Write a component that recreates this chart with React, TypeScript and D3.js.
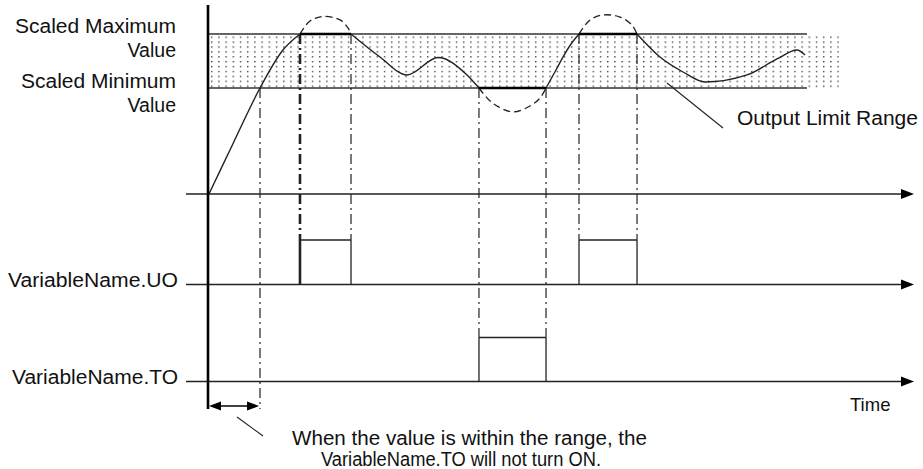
import React from "react";
import * as d3 from "d3";

// ---- data (time units / value units) ----
const EVENTS = { enterMin: 7.43, hitMax1: 13.14, leaveMax1: 20.43, hitMin: 38.71, leaveMin: 48.29, hitMax2: 53.0, leaveMax2: 61.29 };
const MAX_VAL = 100;
const MIN_VAL = 66.25;
const BAND_END = 85.57;
const DOTS_END = 90;

// clamped output (solid) segments
const rise1T = [0.14, 3.14, 7.43, 10.71, 13.14];
const rise1V = [0, 27.5, 66.25, 90, 100];
const wave1T = [20.43, 24.57, 28.43, 32.86, 37, 38.71];
const wave1V = [100, 85.6, 74.4, 85.3, 74.4, 66.25];
const rise2T = [48.29, 49.71, 50.71, 51.86, 53];
const rise2V = [66.25, 77.5, 85.6, 93.75, 100];
const wave2T = [61.29, 64.57, 67.86, 71.0, 77, 81.29, 84.14, 85.29];
const wave2V = [100, 85.6, 76.25, 70, 74.4, 84.4, 90, 86.9];

// unclamped (dashed) segments
const over1T = [13.14, 14.57, 16.43, 18.86, 20.0, 20.43];
const over1V = [100, 108.1, 111.0, 108.8, 103.8, 100];
const underT = [38.71, 40, 41.29, 43.57, 46, 47.43, 48.29];
const underV = [66.25, 59.4, 55, 51.25, 55, 60, 66.25];
const over2T = [53, 54.57, 56.43, 58.86, 60.57, 61.29];
const over2V = [100, 108.75, 111.9, 110.6, 105.6, 100];

// pulses
const uoPulses = [[EVENTS.hitMax1, EVENTS.leaveMax1], [EVENTS.hitMax2, EVENTS.leaveMax2]];
const toPulses = [[EVENTS.hitMin, EVENTS.leaveMin]];

// labels
const leftLabels = [
  { text: "Scaled Maximum", y: 33, w: 161 },
  { text: "Value", y: 57 },
  { text: "Scaled Minimum", y: 88, w: 155 },
  { text: "Value", y: 112 },
  { text: "VariableName.UO", y: 287, w: 170, x: 178 },
  { text: "VariableName.TO", y: 384, w: 166, x: 178 },
];

const W = 923, H = 469;
const X0 = 208;
const axisY = 194;
const uoY = 284.5;
const uoHigh = 240;
const toY = 381.5;
const toHigh = 337.5;
const ink = "#222";

export default function App() {
  const x = d3.scaleLinear().domain([0, 100]).range([X0, 908]);
  const y = d3.scaleLinear().domain([0, 100]).range([axisY, 34]);

  const seg = (ts: number[], vs: number[], curve: any) =>
    d3.line<number>().x((_, i) => x(ts[i])).y((_, i) => y(vs[i])).curve(curve)(ts.map((t) => t)) || "";

  const solid = [
    seg(rise1T, rise1V, d3.curveCatmullRom),
    seg(wave1T, wave1V, d3.curveMonotoneX),
    seg(rise2T, rise2V, d3.curveCatmullRom),
    seg(wave2T, wave2V, d3.curveMonotoneX),
  ];
  const dashed = [
    seg(over1T, over1V, d3.curveCatmullRom),
    seg(underT, underV, d3.curveCatmullRom),
    seg(over2T, over2V, d3.curveCatmullRom),
  ];

  const yMax = y(MAX_VAL), yMin = y(MIN_VAL);
  const dashDot = "10,4,2,4";

  const arrowRight = (yy: number) => `${901},${yy - 5} ${914},${yy} ${901},${yy + 5}`;

  const verticals = [
    { t: EVENTS.enterMin, y1: yMin, y2: 409, w: 1.2 },
    { t: EVENTS.hitMax1, y1: yMax, y2: uoHigh, w: 2.6 },
    { t: EVENTS.leaveMax1, y1: yMax, y2: uoHigh, w: 1.2 },
    { t: EVENTS.hitMin, y1: yMin, y2: toHigh, w: 1.2 },
    { t: EVENTS.leaveMin, y1: yMin, y2: toHigh, w: 1.2 },
    { t: EVENTS.hitMax2, y1: yMax, y2: uoHigh, w: 1.2 },
    { t: EVENTS.leaveMax2, y1: yMax, y2: uoHigh, w: 1.2 },
  ];

  const font = "'Liberation Sans', Arial, Helvetica, sans-serif";
  const fs = 19.5;

  return (
    <svg width={W} height={H} style={{ position: "absolute", left: 0, top: 0, background: "#fff" }}>
      <defs>
        <pattern id="dots" width={7.2} height={4.9} patternUnits="userSpaceOnUse" x={X0 + 3} y={yMax + 2.5}>
          <rect x={0} y={0} width={1.4} height={1.4} fill="#444" />
        </pattern>
      </defs>
      {/* band */}
      <rect x={X0 + 1} y={yMax} width={x(DOTS_END) - X0} height={yMin - yMax} fill="url(#dots)" />
      <line x1={X0} x2={x(BAND_END)} y1={yMax} y2={yMax} stroke="#333" strokeWidth={1.4} />
      <line x1={X0} x2={x(BAND_END)} y1={yMin} y2={yMin} stroke="#333" strokeWidth={1.4} />

      {/* horizontal axes */}
      {[axisY, uoY, toY].map((yy) => (
        <g key={yy}>
          <line x1={186} x2={903} y1={yy} y2={yy} stroke={ink} strokeWidth={1.3} />
          <polygon points={arrowRight(yy)} fill="#000" />
        </g>
      ))}

      {/* vertical dash-dot guides */}
      {verticals.map((v, i) => (
        <line key={i} x1={x(v.t)} x2={x(v.t)} y1={v.y1} y2={v.y2} stroke={ink} strokeWidth={v.w} strokeDasharray={dashDot} />
      ))}

      {/* UO pulses */}
      {uoPulses.map(([a, b], i) => (
        <g key={i}>
          <line x1={x(a)} x2={x(a)} y1={uoHigh} y2={uoY} stroke={ink} strokeWidth={i === 0 ? 2.6 : 1.3} />
          <line x1={x(b)} x2={x(b)} y1={uoHigh} y2={uoY} stroke={ink} strokeWidth={1.3} />
          <line x1={x(a)} x2={x(b)} y1={uoHigh} y2={uoHigh} stroke={ink} strokeWidth={1.3} />
        </g>
      ))}
      {/* TO pulses */}
      {toPulses.map(([a, b], i) => (
        <g key={i}>
          <line x1={x(a)} x2={x(a)} y1={toHigh} y2={toY} stroke={ink} strokeWidth={1.3} />
          <line x1={x(b)} x2={x(b)} y1={toHigh} y2={toY} stroke={ink} strokeWidth={1.3} />
          <line x1={x(a)} x2={x(b)} y1={toHigh} y2={toHigh} stroke={ink} strokeWidth={1.3} />
        </g>
      ))}

      {/* curves */}
      {solid.map((d, i) => (
        <path key={i} d={d} fill="none" stroke={ink} strokeWidth={1.4} />
      ))}
      {dashed.map((d, i) => (
        <path key={i} d={d} fill="none" stroke={ink} strokeWidth={1.3} strokeDasharray="7,4" />
      ))}
      {/* clamped flats */}
      <line x1={x(EVENTS.hitMax1)} x2={x(EVENTS.leaveMax1)} y1={yMax} y2={yMax} stroke="#000" strokeWidth={2.6} />
      <line x1={x(EVENTS.hitMin)} x2={x(EVENTS.leaveMin)} y1={yMin} y2={yMin} stroke="#000" strokeWidth={2.6} />
      <line x1={x(EVENTS.hitMax2)} x2={x(EVENTS.leaveMax2)} y1={yMax} y2={yMax} stroke="#000" strokeWidth={2.6} />

      {/* vertical axis */}
      <line x1={X0} x2={X0} y1={5} y2={409} stroke="#000" strokeWidth={2.6} />

      {/* double arrow */}
      <line x1={X0 + 4} x2={x(EVENTS.enterMin) - 4} y1={406} y2={406} stroke="#000" strokeWidth={1.3} />
      <polygon points={`${X0 + 1},406 ${X0 + 13},401.5 ${X0 + 13},410.5`} fill="#000" />
      <polygon points={`${x(EVENTS.enterMin) - 1},406 ${x(EVENTS.enterMin) - 13},401.5 ${x(EVENTS.enterMin) - 13},410.5`} fill="#000" />

      {/* leader lines */}
      <line x1={667} y1={83} x2={723} y2={128} stroke={ink} strokeWidth={1.1} />
      <line x1={237} y1={417} x2={263} y2={436} stroke={ink} strokeWidth={1.1} />

      {/* text */}
      <g fontFamily={font} fontSize={fs} fill="#111">
        {leftLabels.map((l, i) =>
          l.w ? (
            <text key={i} x={l.x ?? 176} y={l.y} textAnchor="end" textLength={l.w} lengthAdjust="spacingAndGlyphs">{l.text}</text>
          ) : (
            <text key={i} x={l.x ?? 176} y={l.y} textAnchor="end">{l.text}</text>
          )
        )}
        <text x={737} y={125} textLength={181} lengthAdjust="spacingAndGlyphs">Output Limit Range</text>
        <text x={850} y={411} fontSize={18.5}>Time</text>
        <text x={292} y={445} textLength={355} lengthAdjust="spacingAndGlyphs">When the value is within the range, the</text>
        <text x={321} y={466} textLength={280} lengthAdjust="spacingAndGlyphs">VariableName.TO will not turn ON.</text>
      </g>
    </svg>
  );
}
